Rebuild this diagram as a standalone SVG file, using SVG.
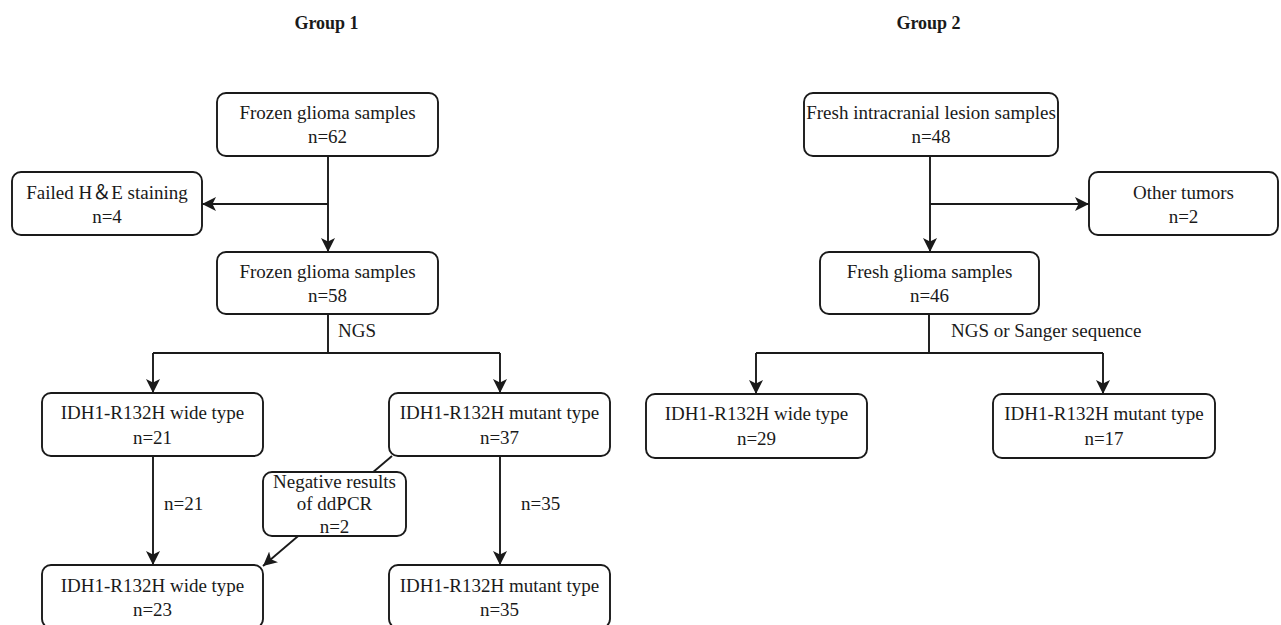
<svg xmlns="http://www.w3.org/2000/svg" width="1281" height="625" viewBox="0 0 1281 625">
<style>
.box{fill:#fff;stroke:#1a1a1a;stroke-width:1.9}
.t{font-family:"Liberation Serif","Times New Roman","Noto Sans CJK SC",serif;font-size:19px;fill:#1a1a1a;text-anchor:middle}
.l{font-family:"Liberation Serif","Times New Roman",serif;font-size:19px;fill:#1a1a1a}
.h{font-family:"Liberation Serif","Times New Roman",serif;font-size:18px;font-weight:bold;fill:#1a1a1a;text-anchor:middle}
.c{fill:none;stroke:#1a1a1a;stroke-width:1.9}
</style>
<defs>
<marker id="ar" viewBox="0 0 14 14" refX="14" refY="7" markerWidth="14" markerHeight="14" markerUnits="userSpaceOnUse" orient="auto">
<path d="M0,0 L14,7 L0,14 L3.5,7 Z" fill="#1a1a1a"/>
</marker>
</defs>
<rect width="1281" height="625" fill="#fff"/>
<text class="h" x="326.5" y="29">Group 1</text>
<text class="h" x="928.5" y="29">Group 2</text>

<g id="connectors">
<path class="c" d="M328,156 V252" marker-end="url(#ar)"/>
<path class="c" d="M328,204 H202" marker-end="url(#ar)"/>
<path class="c" d="M328,314 V353 M153,353 H500"/>
<path class="c" d="M153,353 V393" marker-end="url(#ar)"/>
<path class="c" d="M500,353 V393" marker-end="url(#ar)"/>
<path class="c" d="M153,456 V565" marker-end="url(#ar)"/>
<path class="c" d="M500,456 V565" marker-end="url(#ar)"/>
<path class="c" d="M392,456 L263,566" marker-end="url(#ar)"/>
<path class="c" d="M930,156 V252" marker-end="url(#ar)"/>
<path class="c" d="M930,204 H1089" marker-end="url(#ar)"/>
<path class="c" d="M929,314 V353 M756,353 H1103"/>
<path class="c" d="M756,353 V394" marker-end="url(#ar)"/>
<path class="c" d="M1103,353 V394" marker-end="url(#ar)"/>
<text class="l" x="338" y="337">NGS</text>
<text class="l" x="951" y="337">NGS or Sanger sequence</text>
<text class="l" x="164" y="510">n=21</text>
<text class="l" x="521" y="510">n=35</text>
</g>

<g id="n1"><rect class="box" x="217" y="93" width="221" height="63" rx="9"/>
<text class="t" x="327.5" y="119">Frozen glioma samples</text><text class="t" x="327.5" y="143">n=62</text></g>
<g id="n2"><rect class="box" x="12" y="172" width="190" height="63" rx="9"/>
<text class="t" x="107" y="199">Failed H＆E staining</text><text class="t" x="107" y="223">n=4</text></g>
<g id="n3"><rect class="box" x="217" y="252" width="221" height="62" rx="9"/>
<text class="t" x="327.5" y="278">Frozen glioma samples</text><text class="t" x="327.5" y="302">n=58</text></g>
<g id="n4"><rect class="box" x="42" y="393" width="221" height="63" rx="9"/>
<text class="t" x="152.5" y="419">IDH1-R132H wide type</text><text class="t" x="152.5" y="444">n=21</text></g>
<g id="n5"><rect class="box" x="389" y="393" width="221" height="63" rx="9"/>
<text class="t" x="499.5" y="419">IDH1-R132H mutant type</text><text class="t" x="499.5" y="444">n=37</text></g>
<g id="n6"><rect class="box" x="263" y="472" width="143" height="64" rx="9"/>
<text class="t" x="334.5" y="488">Negative results</text><text class="t" x="334.5" y="510">of ddPCR</text><text class="t" x="334.5" y="533">n=2</text></g>
<g id="n7"><rect class="box" x="42" y="565" width="221" height="63" rx="9"/>
<text class="t" x="152.5" y="592">IDH1-R132H wide type</text><text class="t" x="152.5" y="616">n=23</text></g>
<g id="n8"><rect class="box" x="389" y="565" width="221" height="63" rx="9"/>
<text class="t" x="499.5" y="592">IDH1-R132H mutant type</text><text class="t" x="499.5" y="616">n=35</text></g>

<g id="n9"><rect class="box" x="804" y="93" width="254" height="63" rx="9"/>
<text class="t" x="931" y="119">Fresh intracranial lesion samples</text><text class="t" x="931" y="143">n=48</text></g>
<g id="n10"><rect class="box" x="1089" y="172" width="189" height="63" rx="9"/>
<text class="t" x="1183.5" y="199">Other tumors</text><text class="t" x="1183.5" y="223">n=2</text></g>
<g id="n11"><rect class="box" x="820" y="252" width="219" height="62" rx="9"/>
<text class="t" x="929.5" y="278">Fresh glioma samples</text><text class="t" x="929.5" y="302">n=46</text></g>
<g id="n12"><rect class="box" x="646" y="394" width="221" height="64" rx="9"/>
<text class="t" x="756.5" y="420">IDH1-R132H wide type</text><text class="t" x="756.5" y="445">n=29</text></g>
<g id="n13"><rect class="box" x="993" y="394" width="222" height="64" rx="9"/>
<text class="t" x="1104" y="420">IDH1-R132H mutant type</text><text class="t" x="1104" y="445">n=17</text></g>
</svg>
